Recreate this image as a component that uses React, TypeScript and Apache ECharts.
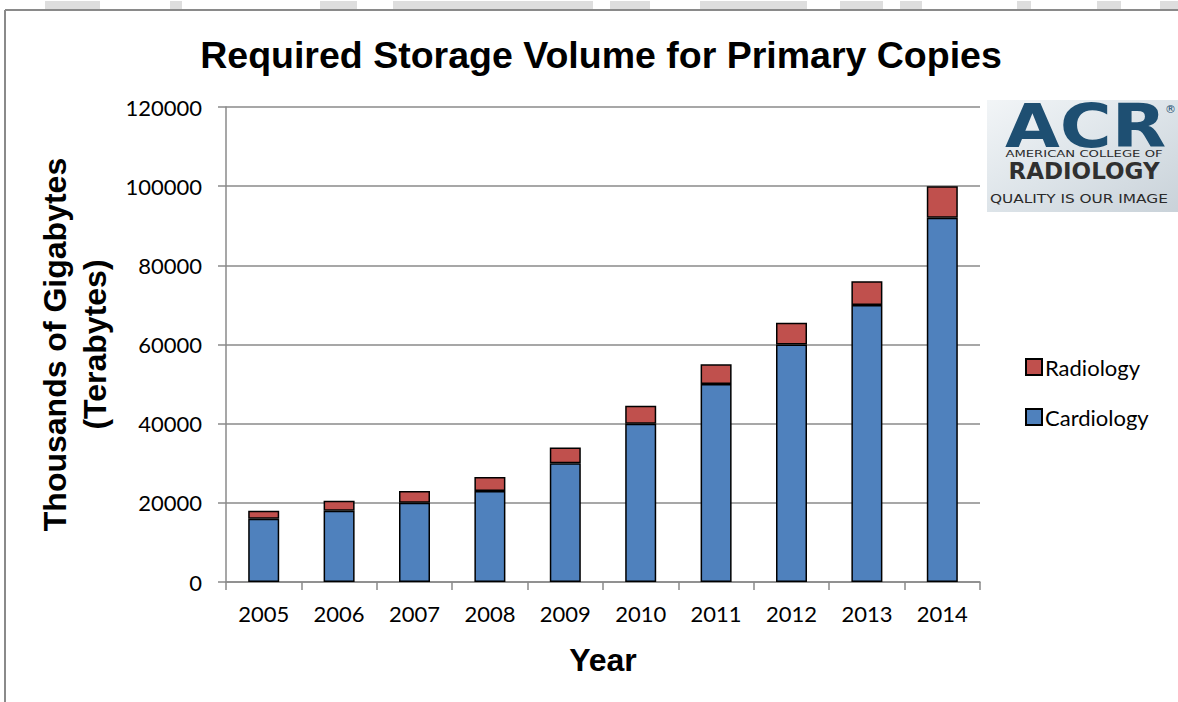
import React, { useEffect, useRef } from "react";
import * as echarts from "echarts";

// Storage volume (terabytes) by year
const years = ["2005", "2006", "2007", "2008", "2009", "2010", "2011", "2012", "2013", "2014"];
const cardiology = [16000, 18000, 20000, 23000, 30000, 40000, 50000, 60000, 70000, 92000];
const radiology = [2000, 2500, 3000, 3500, 4000, 4500, 5000, 5500, 6000, 8000];

const BLUE = "#4F81BD";
const RED = "#C0504D";
const GRID = "#8a8a8a";
const ACR_BLUE = "#1e4f72";

// faint header shapes from the slide backdrop: [x, width]
const headerShapes: [number, number][] = [
  [45, 55], [170, 12], [320, 37], [393, 200], [610, 40], [700, 107],
  [840, 43], [900, 22], [1017, 14], [1097, 24], [1160, 18],
];

export default function App() {
  const ref = useRef<HTMLDivElement>(null);

  useEffect(() => {
    document.body.style.margin = "0";
    const chart = echarts.init(ref.current!, null, { renderer: "svg" });
    const fontTick = "Lato, 'Open Sans', sans-serif";
    const fontBold = "'Liberation Sans', Arial, sans-serif";

    chart.setOption({
      animation: false,
      backgroundColor: "#ffffff",
      title: {
        text: "Required Storage Volume for Primary Copies",
        left: 596,
        top: 31,
        textAlign: "center",
        textStyle: { fontFamily: fontBold, fontWeight: "bold", fontSize: 37.5, color: "#000" },
      },
      legend: {
        orient: "vertical",
        left: 1020,
        top: 351,
        itemWidth: 16,
        itemHeight: 16,
        itemGap: 28,
        icon: "rect",
        data: ["Radiology", "Cardiology"],
        textStyle: { fontFamily: fontTick, fontSize: 22, color: "#000", padding: [0, 0, 0, -2] },
      },
      grid: { left: 226, right: 198, top: 107, bottom: 120, containLabel: false },
      xAxis: {
        type: "category",
        data: years,
        name: "Year",
        nameLocation: "middle",
        nameGap: 62,
        nameTextStyle: { fontFamily: fontBold, fontWeight: "bold", fontSize: 32, color: "#000" },
        axisLine: { lineStyle: { color: GRID, width: 1.5 } },
        axisTick: { show: true, length: 8, alignWithLabel: false, lineStyle: { color: GRID, width: 1.5 } },
        axisLabel: { fontFamily: fontTick, fontSize: 22, color: "#000", margin: 20 },
      },
      yAxis: {
        type: "value",
        min: 0,
        max: 120000,
        interval: 20000,
        name: "Thousands of Gigabytes\n(Terabytes)",
        nameLocation: "middle",
        nameRotate: 90,
        nameGap: 104,
        nameTextStyle: {
          fontFamily: fontBold,
          fontWeight: "bold",
          fontSize: 32,
          color: "#000",
          lineHeight: 40,
          align: "center",
        },
        axisLine: { show: true, lineStyle: { color: GRID, width: 1.5 } },
        axisTick: { show: true, length: 8, lineStyle: { color: GRID, width: 1.5 } },
        splitLine: { lineStyle: { color: GRID, width: 1.5 } },
        axisLabel: {
          fontFamily: fontTick,
          fontSize: 22,
          color: "#000",
          margin: 24,
          formatter: (v: number) => String(v),
        },
      },
      series: [
        {
          name: "Cardiology",
          type: "bar",
          stack: "total",
          barWidth: 31,
          data: cardiology,
          itemStyle: { color: BLUE, borderColor: "#000", borderWidth: 1.5 },
        },
        {
          name: "Radiology",
          type: "bar",
          stack: "total",
          barWidth: 31,
          data: radiology,
          itemStyle: { color: RED, borderColor: "#000", borderWidth: 1.5 },
        },
      ],
      graphic: [
        // backdrop strip and frame lines
        ...headerShapes.map(([x, w]) => ({
          type: "rect",
          silent: true,
          shape: { x, y: 1, width: w, height: 8 },
          style: { fill: "#dedede" },
        })),
        {
          type: "line",
          silent: true,
          shape: { x1: 5, y1: 10, x2: 1178, y2: 10 },
          style: { stroke: GRID, lineWidth: 2 },
        },
        {
          type: "line",
          silent: true,
          shape: { x1: 5, y1: 10, x2: 5, y2: 702 },
          style: { stroke: GRID, lineWidth: 2 },
        },
        // ACR logo
        {
          type: "group",
          x: 987,
          y: 100,
          silent: true,
          children: [
            {
              type: "rect",
              shape: { x: 0, y: 0, width: 191, height: 112 },
              style: {
                fill: new echarts.graphic.LinearGradient(0, 0, 1, 1, [
                  { offset: 0, color: "#f2f5f7" },
                  { offset: 0.5, color: "#dde4e9" },
                  { offset: 1, color: "#c9d2d9" },
                ]),
              },
            },
            {
              type: "text",
              x: 18,
              y: -4,
              scaleX: 1.18,
              style: {
                text: "ACR",
                fontFamily: "'DejaVu Sans', sans-serif",
                fontWeight: "bold",
                fontSize: 60,
                fill: ACR_BLUE,
              },
            },
            {
              type: "text",
              x: 178,
              y: 4,
              style: { text: "®", fontFamily: "'DejaVu Sans', sans-serif", fontSize: 11, fill: ACR_BLUE },
            },
            {
              type: "text",
              x: 97,
              y: 50,
              scaleX: 1.55,
              style: {
                text: "AMERICAN COLLEGE OF",
                align: "center",
                fontFamily: "'DejaVu Sans', sans-serif",
                fontSize: 8.5,
                fill: "#2a2a2a",
              },
            },
            {
              type: "text",
              x: 97,
              y: 59,
              style: {
                text: "RADIOLOGY",
                align: "center",
                fontFamily: "'DejaVu Sans', sans-serif",
                fontWeight: "bold",
                fontSize: 23,
                fill: "#303030",
              },
            },
            {
              type: "text",
              x: 3,
              y: 92,
              scaleX: 1.18,
              style: {
                text: "QUALITY IS OUR IMAGE",
                fontFamily: "'DejaVu Sans', sans-serif",
                fontSize: 13,
                fill: "#2a2a2a",
              },
            },
          ],
        },
      ],
    });

    return () => chart.dispose();
  }, []);

  return <div ref={ref} style={{ width: 1178, height: 702 }} />;
}
